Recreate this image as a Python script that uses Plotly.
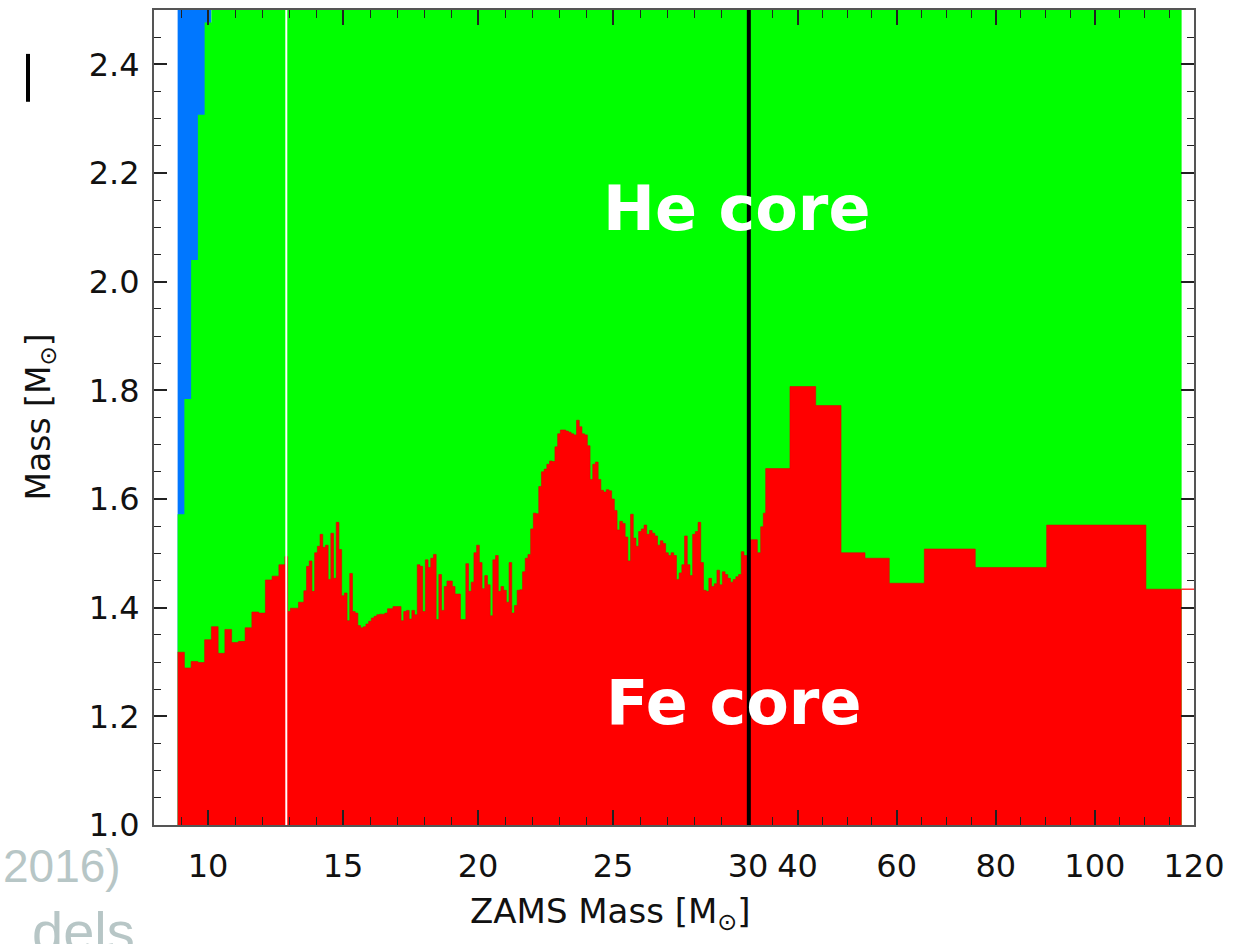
import plotly.graph_objects as go

# ---------------- data ----------------
Y_MIN, Y_MAX = 1.0, 2.5

# 9.0 - 12.75 Msun models (0.25 Msun spacing)
coarse_mass = [9.0, 9.25, 9.5, 9.75, 10.0, 10.25, 10.5, 10.75,
               11.0, 11.25, 11.5, 11.75, 12.0, 12.25, 12.5, 12.75]
coarse_fe = [1.318, 1.289, 1.301, 1.299, 1.341, 1.365, 1.316, 1.360,
             1.336, 1.338, 1.363, 1.392, 1.390, 1.451, 1.458, 1.479]
# He-core mass of the lightest models (all heavier ones lie above the plot)
coarse_he = [1.572, 1.784, 2.040, 2.307, 2.477]

# 12.9 - 30.0 Msun models (0.1 Msun spacing)
fine_mass = [round(12.9 + 0.1 * i, 1) for i in range(172)]
fine_fe = [
    1.494,
    1.393, 1.399, 1.399, 1.399, 1.410, 1.410, 1.431, 1.476, 1.486, 1.430,
    1.501, 1.513, 1.535, 1.511, 1.515, 1.452, 1.537, 1.454, 1.557, 1.507,
    1.422, 1.427, 1.376, 1.463, 1.393, 1.390, 1.367, 1.363, 1.365, 1.370,
    1.375, 1.381, 1.384, 1.387, 1.388, 1.388, 1.390, 1.398, 1.398, 1.402,
    1.402, 1.402, 1.376, 1.393, 1.395, 1.379, 1.395, 1.387, 1.479, 1.476,
    1.393, 1.488, 1.474, 1.491, 1.498, 1.378, 1.461, 1.395, 1.439, 1.449,
    1.449, 1.439, 1.425, 1.425, 1.378, 1.378, 1.481, 1.430, 1.447, 1.501,
    1.515, 1.483, 1.435, 1.459, 1.442, 1.385, 1.488, 1.496, 1.430, 1.439,
    1.432, 1.410, 1.483, 1.390, 1.404, 1.432, 1.433, 1.466, 1.491, 1.498,
    1.545, 1.574, 1.573, 1.623, 1.650, 1.655, 1.664, 1.670, 1.669, 1.696,
    1.720, 1.727, 1.727, 1.725, 1.723, 1.720, 1.718, 1.745, 1.733, 1.720,
    1.718, 1.698, 1.636, 1.664, 1.668, 1.636, 1.616, 1.613, 1.617, 1.615,
    1.600, 1.579, 1.543, 1.559, 1.555, 1.530, 1.486, 1.572, 1.528, 1.513,
    1.540, 1.545, 1.552, 1.535, 1.542, 1.537, 1.532, 1.515, 1.523, 1.518,
    1.501, 1.496, 1.501, 1.496, 1.452, 1.464, 1.479, 1.532, 1.479, 1.459,
    1.535, 1.540, 1.557, 1.483, 1.432, 1.430, 1.454, 1.439, 1.444, 1.469,
    1.442, 1.466, 1.461, 1.454, 1.447, 1.452, 1.457, 1.461, 1.503, 1.496,
    1.496,
]

# 30 - 120 Msun: bin edges and Fe-core levels
high_edges = [30.0, 31.88, 32.56, 33.09, 33.57, 38.47, 43.66, 48.77,
              53.61, 58.51, 65.58, 75.86, 90.27, 110.3, 117.5]
high_fe = [1.525, 1.501, 1.549, 1.574, 1.656, 1.807, 1.772,
           1.501, 1.491, 1.445, 1.508, 1.474, 1.552, 1.434]
high_tail_x = [117.5, 120.0]

x_ticks_low = [10, 15, 20, 25, 30]
x_ticks_high = [40, 60, 80, 100, 120]
y_ticks = [1.0, 1.2, 1.4, 1.6, 1.8, 2.0, 2.2, 2.4]

GREEN = "#00ff00"
RED = "#ff0000"
BLUE = "#0077ff"

# ---------------- build step outlines ----------------
low_left, low_fe, low_top = [], [], []
for i, (m, v) in enumerate(zip(coarse_mass, coarse_fe)):
    low_left.append(m - 0.125)
    low_fe.append(v)
    low_top.append(coarse_he[i] if i < len(coarse_he) else Y_MAX)
for m, v in zip(fine_mass, fine_fe):
    low_left.append(m - 0.05)
    low_fe.append(v)
    low_top.append(Y_MAX)
low_left.append(fine_mass[-1] + 0.05)
low_fe.append(fine_fe[-1])
low_top.append(Y_MAX)

blue_x = [coarse_mass[0] - 0.125, coarse_mass[len(coarse_he) - 1] + 0.125]

high_y = high_fe + [high_fe[-1]]

fig = go.Figure()
step = dict(mode="lines", line_shape="hv", fill="tozeroy", hoverinfo="skip",
            showlegend=False)

# left panel (8 - 30)
fig.add_trace(go.Scatter(x=blue_x, y=[Y_MAX, Y_MAX], fillcolor=BLUE,
                         line=dict(color=BLUE, width=0), xaxis="x", yaxis="y", **step))
fig.add_trace(go.Scatter(x=low_left, y=low_top, fillcolor=GREEN,
                         line=dict(color=GREEN, width=0), xaxis="x", yaxis="y", **step))
fig.add_trace(go.Scatter(x=low_left, y=low_fe, fillcolor=RED,
                         line=dict(color="#e00000", width=0.6), xaxis="x", yaxis="y", **step))

# right panel (30 - 120)
fig.add_trace(go.Scatter(x=[high_edges[0], high_edges[-1]], y=[Y_MAX, Y_MAX],
                         fillcolor=GREEN, line=dict(color=GREEN, width=0),
                         xaxis="x2", yaxis="y2", **step))
fig.add_trace(go.Scatter(x=high_edges, y=high_y, fillcolor=RED,
                         line=dict(color="#e00000", width=0.6),
                         xaxis="x2", yaxis="y2", **step))
fig.add_trace(go.Scatter(x=high_tail_x, y=[high_fe[-1]] * 2, mode="lines",
                         line=dict(color=RED, width=1.2), hoverinfo="skip",
                         showlegend=False, xaxis="x2", yaxis="y2"))

SPLIT = 594 / 1040
TICK_FONT = dict(family="DejaVu Sans", size=32, color="#111")
FRAME = "#555555"
TICKC = "#222222"

common_x = dict(showgrid=False, zeroline=False, ticks="inside", ticklen=15,
                tickwidth=1.6, tickcolor=TICKC, showline=True, linecolor=FRAME,
                linewidth=2, mirror="allticks", tickfont=TICK_FONT,
                ticklabelstandoff=12)

fig.update_layout(
    width=1241, height=944,
    margin=dict(l=154, r=47, t=8, b=119),
    paper_bgcolor="white", plot_bgcolor="white",
    xaxis=dict(domain=[0, SPLIT], range=[8, 30], tickvals=x_ticks_low,
               ticktext=[str(v) for v in x_ticks_low], anchor="y",
               minor=dict(dtick=1, tick0=8, ticklen=8, tickwidth=1.3,
                          tickcolor=TICKC, ticks="inside"),
               **common_x),
    xaxis2=dict(domain=[SPLIT, 1], range=[30, 120], tickvals=x_ticks_high,
                ticktext=[str(v) for v in x_ticks_high], anchor="y2",
                minor=dict(dtick=5, tick0=30, ticklen=8, tickwidth=1.3,
                           tickcolor=TICKC, ticks="inside"),
                **common_x),
    yaxis=dict(domain=[0, 1], range=[Y_MIN, Y_MAX], tickvals=y_ticks,
               ticktext=[f"{v:.1f}" for v in y_ticks], anchor="x",
               showgrid=False, zeroline=False, ticks="inside", ticklen=13,
               tickwidth=1.6, tickcolor=TICKC, showline=True, linecolor=FRAME,
               linewidth=2, tickfont=TICK_FONT, ticklabelstandoff=6,
               minor=dict(dtick=0.05, tick0=1.0, ticklen=7, tickwidth=1.3,
                          tickcolor=TICKC, ticks="inside")),
    yaxis2=dict(domain=[0, 1], range=[Y_MIN, Y_MAX], anchor="x2",
                overlaying="y", side="right", showticklabels=False,
                tickvals=y_ticks, showgrid=False, zeroline=False,
                ticks="inside", ticklen=13, tickwidth=1.6, tickcolor=TICKC,
                showline=True, linecolor=FRAME, linewidth=2,
                minor=dict(dtick=0.05, tick0=1.0, ticklen=7, tickwidth=1.3,
                           tickcolor=TICKC, ticks="inside")),
)

# vertical marker lines
fig.add_shape(type="line", xref="x", yref="paper", x0=12.9, x1=12.9, y0=0, y1=1,
              line=dict(color="white", width=2), layer="above")
fig.add_shape(type="line", xref="paper", yref="paper", x0=SPLIT + 0.0008,
              x1=SPLIT + 0.0008, y0=0, y1=1, line=dict(color="black", width=4),
              layer="above")

# labels inside the plot
fig.add_annotation(x=29.6, y=2.135, xref="x", yref="y", text="<b>He core</b>",
                   showarrow=False, xanchor="center", yanchor="middle",
                   font=dict(family="DejaVu Sans", size=62, color="white"))
fig.add_annotation(x=29.45, y=1.225, xref="x", yref="y", text="<b>Fe core</b>",
                   showarrow=False, xanchor="center", yanchor="middle",
                   font=dict(family="DejaVu Sans", size=62, color="white"))

# axis titles
fig.add_annotation(x=(610 - 154) / 1040, y=(825 - 914) / 817, xref="paper", yref="paper",
                   text="ZAMS Mass [M<sub>⊙</sub>]", showarrow=False,
                   xanchor="center", yanchor="middle",
                   font=dict(family="DejaVu Sans", size=34, color="#111"))
fig.add_annotation(x=(40 - 154) / 1040, y=0.5, xref="paper", yref="paper",
                   text="Mass [M<sub>⊙</sub>]", textangle=-90, showarrow=False,
                   xanchor="center", yanchor="middle",
                   font=dict(family="DejaVu Sans", size=33, color="#111"))

# slide fragments at the left edge
fig.add_annotation(x=(123 - 154) / 1040, y=(825 - 866) / 817, xref="paper", yref="paper",
                   text="2016)", showarrow=False, xanchor="right", yanchor="middle",
                   font=dict(family="Liberation Sans", size=46, color="#b7c6c6"))
fig.add_annotation(x=(30 - 154) / 1040, y=(825 - 932) / 817, xref="paper", yref="paper",
                   text="dels", showarrow=False, xanchor="left", yanchor="middle",
                   font=dict(family="Liberation Sans", size=56, color="#b7c6c6"))
fig.add_shape(type="line", xref="paper", yref="paper",
              x0=(28 - 154) / 1040, x1=(28 - 154) / 1040,
              y0=(825 - 52) / 817, y1=(825 - 100) / 817,
              line=dict(color="black", width=4))

fig.write_html("out.html")
